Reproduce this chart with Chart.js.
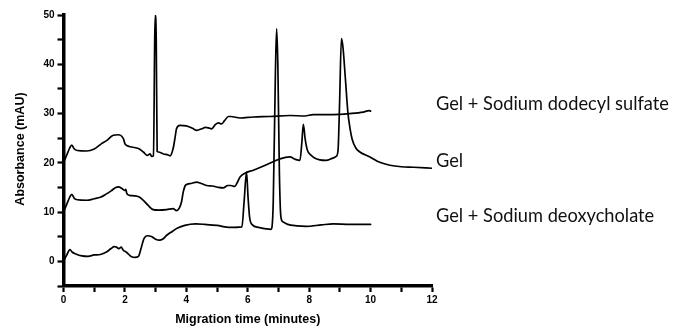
<!DOCTYPE html>
<html>
<head>
<meta charset="utf-8">
<script src="https://cdn.jsdelivr.net/npm/chart.js@4.4.1/dist/chart.umd.min.js"></script>
<style>
  html, body { margin: 0; padding: 0; background: #fff; }
  #wrap { width: 682px; height: 330px; position: relative; }
</style>
</head>
<body>
<div id="wrap"><canvas id="c" width="682" height="330"></canvas></div>
<script>
// ---- Data ----
const seriesNames = ['Gel + Sodium dodecyl sulfate', 'Gel', 'Gel + Sodium deoxycholate'];
const labelAnchorY = [30.8, 19.1, 8.0];

const sdsTime = [0.00,0.10,0.20,0.27,0.35,0.45,0.75,1.00,1.24,1.40,1.62,1.78,1.95,2.00,2.06,2.22,2.44,2.60,2.73,2.82,2.87,2.93,2.97,2.99,3.02,3.05,3.09,3.25,3.41,3.47,3.57,3.63,3.68,3.79,4.00,4.20,4.34,4.50,4.62,4.72,4.82,4.95,5.05,5.15,5.25,5.37,5.45,5.75,6.18,6.72,7.37,7.86,8.13,8.78,9.33,9.76,9.95,10.00];
const sdsAbs  = [20.0,21.5,23.0,23.6,22.8,22.5,22.4,22.8,23.9,24.5,25.6,25.7,24.9,23.9,23.5,23.2,22.9,22.2,21.5,21.8,21.3,21.4,45.0,50.0,45.0,22.3,22.2,21.8,21.6,21.4,22.9,25.0,26.9,27.6,27.5,27.0,26.6,26.9,27.2,27.1,26.9,27.8,28.1,27.9,28.6,29.4,29.4,29.1,29.3,29.4,29.6,29.5,29.8,29.8,30.0,30.3,30.6,30.5];

const gelTime = [0.00,0.10,0.20,0.27,0.35,0.45,0.75,1.00,1.20,1.40,1.55,1.70,1.80,1.90,2.00,2.03,2.06,2.15,2.30,2.45,2.60,2.75,2.92,3.10,3.36,3.57,3.68,3.77,3.84,3.90,3.98,4.15,4.34,4.45,4.66,4.85,5.05,5.20,5.35,5.45,5.58,5.66,5.75,5.91,6.18,6.61,7.05,7.37,7.55,7.70,7.76,7.81,7.87,7.94,8.05,8.15,8.35,8.55,8.75,8.88,8.94,8.99,9.05,9.10,9.18,9.26,9.33,9.40,9.52,9.65,9.98,10.30,10.63,11.00,11.40,12.00];
const gelAbs  = [10.0,11.5,13.0,13.6,12.8,12.5,12.4,12.7,13.0,13.7,14.3,15.0,15.1,14.8,14.4,14.6,13.8,13.4,13.3,13.1,12.4,11.4,10.5,10.4,10.5,10.7,10.3,10.8,12.0,14.1,15.5,15.8,16.1,15.9,15.4,15.3,15.0,14.9,15.4,15.4,15.2,16.0,17.1,17.9,18.5,19.6,20.8,21.2,20.7,20.5,24.0,27.8,24.8,22.6,21.6,21.1,20.6,20.5,20.9,21.3,22.5,32.0,45.2,43.5,37.0,30.3,27.0,24.8,23.0,22.2,21.2,20.1,19.5,19.2,19.1,18.9];

const docTime = [0.00,0.10,0.21,0.28,0.40,0.60,0.80,1.00,1.20,1.40,1.55,1.65,1.72,1.80,1.88,1.94,2.06,2.20,2.33,2.44,2.52,2.62,2.74,2.88,3.00,3.12,3.25,3.36,3.50,3.70,3.95,4.30,4.60,5.00,5.40,5.81,5.88,5.96,6.01,6.06,6.15,6.35,6.60,6.76,6.83,6.90,6.94,6.98,7.03,7.08,7.15,7.30,7.60,7.90,8.40,8.78,9.33,10.00];
const docAbs  = [0.0,1.2,2.4,1.9,1.5,1.1,1.0,1.3,1.4,1.9,2.6,3.0,2.9,2.6,2.9,2.3,1.8,1.0,0.8,1.0,2.5,4.6,5.2,5.0,4.5,4.3,4.6,5.3,5.9,6.7,7.3,7.6,7.5,7.3,6.9,7.0,12.0,18.1,13.0,9.0,7.4,6.9,6.6,6.5,12.0,38.0,47.2,40.0,18.0,9.0,8.0,7.5,7.2,7.1,7.4,7.6,7.5,7.5];

const xTicksMin = 0, xTicksMax = 12;
const yTicksMin = -5, yTicksMax = 50;
const xTitle = 'Migration time (minutes)';
const yTitle = 'Absorbance (mAU)';

function pts(xs, ys) { return xs.map((x, i) => ({ x: x, y: ys[i] })); }

const lineStyle = {
  borderColor: '#000',
  borderWidth: 1.7,
  pointRadius: 0,
  fill: false,
  cubicInterpolationMode: 'monotone'
};

const tickFont = { family: 'Liberation Sans, Arial, sans-serif', size: 10, weight: 'bold' };

const labelsPlugin = {
  id: 'seriesLabels',
  afterDraw(chart) {
    const ctx = chart.ctx;
    const xs = chart.scales.x, ys = chart.scales.y;
    ctx.save();
    ctx.font = '20px Lato';
    const w = ctx.measureText(seriesNames[0]).width;
    const size = 20 * 233 / w;
    ctx.font = size.toFixed(2) + 'px Lato';
    ctx.fillStyle = '#111';
    ctx.textBaseline = 'alphabetic';
    ctx.textAlign = 'left';
    seriesNames.forEach((name, i) => {
      ctx.fillText(name, xs.right + 4, ys.getPixelForValue(labelAnchorY[i]));
    });
    ctx.font = 'bold 12.5px Liberation Sans, Arial, sans-serif';
    ctx.fillStyle = '#000';
    ctx.textAlign = 'center';
    ctx.textBaseline = 'middle';
    ctx.translate(21, ys.getPixelForValue(22.8));
    ctx.rotate(-Math.PI / 2);
    ctx.fillText(yTitle, 0, 0);
    ctx.restore();
  }
};

new Chart(document.getElementById('c'), {
  type: 'line',
  data: {
    datasets: [
      Object.assign({ label: seriesNames[0], data: pts(sdsTime, sdsAbs) }, lineStyle),
      Object.assign({ label: seriesNames[1], data: pts(gelTime, gelAbs) }, lineStyle),
      Object.assign({ label: seriesNames[2], data: pts(docTime, docAbs) }, lineStyle)
    ]
  },
  options: {
    responsive: false,
    animation: false,
    devicePixelRatio: 1,
    layout: { padding: { left: 0, right: 250, top: 15, bottom: 0 } },
    plugins: { legend: { display: false }, tooltip: { enabled: false } },
    elements: { line: { borderCapStyle: 'round', borderJoinStyle: 'round' } },
    scales: {
      x: {
        type: 'linear',
        min: xTicksMin, max: xTicksMax,
        ticks: {
          stepSize: 1,
          color: '#000',
          font: tickFont,
          padding: 2,
          maxRotation: 0,
          autoSkip: false,
          callback: v => (v % 2 === 0 ? String(v) : '')
        },
        grid: { drawOnChartArea: false, drawTicks: true, tickLength: 6, tickWidth: 2.2, tickColor: '#000' },
        border: { display: true, color: '#000', width: 3.5 },
        title: {
          display: true, text: xTitle, color: '#000',
          font: { family: 'Liberation Sans, Arial, sans-serif', size: 12.5, weight: 'bold' },
          padding: { top: 0, bottom: 2.5 }
        },
        afterFit(s) { s.height = 44; }
      },
      y: {
        type: 'linear',
        min: yTicksMin, max: yTicksMax,
        ticks: {
          stepSize: 5,
          color: '#000',
          font: tickFont,
          padding: 3,
          autoSkip: false,
          callback: v => (v % 10 === 0 ? String(v) : '')
        },
        grid: { drawOnChartArea: false, drawTicks: true, tickLength: 6, tickWidth: 2.2, tickColor: '#000' },
        border: { display: true, color: '#000', width: 3.5 },
        afterFit(s) { s.width = 63.5; }
      }
    }
  },
  plugins: [labelsPlugin]
});
</script>
</body>
</html>
